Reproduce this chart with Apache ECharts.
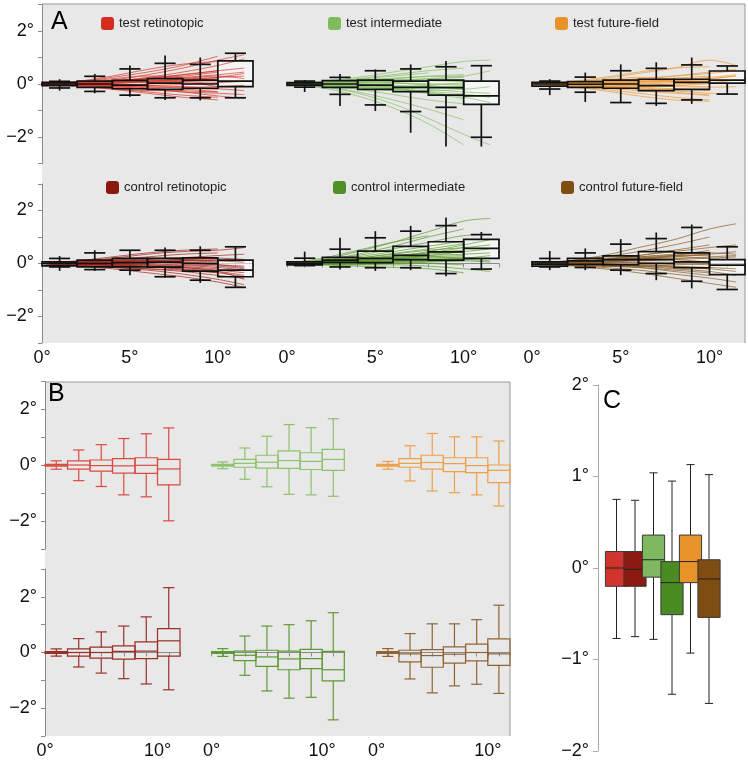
<!DOCTYPE html>
<html><head><meta charset="utf-8">
<script src="https://cdn.jsdelivr.net/npm/echarts@6/dist/echarts.min.js"></script>
<style>html,body{margin:0;padding:0;background:#fff}#c{width:748px;height:765px}</style>
</head><body><div id="c"></div><script>
// ---------------- DATA ----------------
const panelNames = ['test retinotopic','test intermediate','test future-field','control retinotopic','control intermediate','control future-field'];
const binCenters = [1,3,5,7,9,11];
const trajX = [0,2,4,6,8,10,11.5];
const xLabelValuesA = [0,5,10];
const xLabelValuesB = [0,10];
const yLabelValuesAB = [-2,0,2];
const yLabelValuesC = [-2,-1,0,1,2];

// trajectories (y at trajX)
const trajTestRetino = [
 [0,0.05,0.15,0.35,0.6,0.9,1.1],[0,0.08,0.25,0.45,0.7,1.05],[0,0.02,0.1,0.25,0.45,0.7,0.95],
 [0,0.04,0.12,0.2,0.3,0.45],[0,0,0.05,0.1,0.18,0.25,0.3],[0,-0.03,0.02,0.08,0.12,0.2],
 [0,0.02,0,-0.05,-0.02,0.05,0.1],[0,-0.05,-0.1,-0.12,-0.15,-0.2],[0,-0.04,-0.12,-0.2,-0.3,-0.35,-0.4],
 [0,-0.06,-0.18,-0.3,-0.42,-0.5],[0,-0.08,-0.2,-0.35,-0.5,-0.6],[0,-0.03,-0.08,-0.2,-0.3,-0.45,-0.55],
 [0,0.03,0.08,0.15,0.1,0],[0,-0.02,0.05,0.2,0.35,0.5,0.6],[0,0.06,0.2,0.3,0.25,0.15],
 [0,-0.05,-0.05,0,0.05,-0.1],[0,0.1,0.3,0.55,0.75,0.85],[0,-0.02,-0.15,-0.25,-0.2,-0.3],
 [0,0.04,0.1,0.18,0.25,0.35,0.45],[0,-0.01,0.03,0.06,0.1,0.12],[0,0.03,0.06,0.1,0.15,0.25,0.4],
 [0,-0.03,-0.06,-0.1,-0.12,-0.1,-0.05],[0,-0.02,-0.06,-0.15,-0.25,-0.3],[0,0.05,0.12,0.22,0.35,0.5],
 [0,0.01,-0.02,-0.06,-0.1,-0.18,-0.25],[0,0.02,0.07,0.12,0.2,0.3,0.2]
];
const trajTestInter = [
 [0,0.1,0.25,0.45,0.65,0.85,0.9],[0,0.05,0.2,0.35,0.5,0.6],[0,0.08,0.15,0.2,0.3,0.35],
 [0,0.03,0.05,0.1,0.12,0.1],[0,0,0,-0.05,-0.1,-0.15],[0,-0.03,-0.08,-0.15,-0.2,-0.3,-0.35],
 [0,-0.05,-0.15,-0.25,-0.35,-0.45],[0,-0.08,-0.2,-0.4,-0.6,-0.75],[0,-0.1,-0.3,-0.6,-0.95,-1.35],
 [0,-0.15,-0.45,-0.9,-1.5,-2.3],[0,-0.1,-0.35,-0.75,-1.3,-1.9,-2.3],[0,0.05,0.1,0.05,0,-0.05],
 [0,0.02,-0.05,-0.1,-0.05,0.05],[0,0.06,0.12,0.22,0.28,0.3],[0,-0.02,-0.1,-0.2,-0.25,-0.2,-0.1],
 [0,0.04,0,-0.15,-0.35,-0.55],[0,0.07,0.18,0.3,0.42],[0,-0.04,-0.12,-0.18,-0.3,-0.5,-0.7],
 [0,0.03,0.08,0.15,0.2,0.25],[0,0.01,0.03,0.02,0,0],[0,-0.02,-0.05,-0.08,-0.12,-0.18],
 [0,-0.04,-0.1,-0.18,-0.28,-0.38,-0.5],[0,0.05,0.12,0.18,0.15,0.1],[0,0.02,0.06,0.1,0.2,0.3,0.5],
 [0,-0.01,-0.04,-0.1,-0.12,-0.08],[0,0.04,0.08,0.05,-0.05,-0.2]
];
const trajTestFF = [
 [0,0.05,0.2,0.4,0.6,0.9,0.7],[0,0.08,0.25,0.45,0.6,0.65],[0,0.05,0.12,0.2,0.3,0.4,0.5],
 [0,0.02,0.05,0.1,0.15,0.2,0.3],[0,0,0.02,0,0.05,0.1],[0,-0.02,-0.05,-0.05,0,0.05,0.15],
 [0,-0.04,-0.1,-0.15,-0.2,-0.2],[0,-0.06,-0.15,-0.25,-0.35,-0.4],[0,-0.08,-0.2,-0.35,-0.5,-0.6],
 [0,-0.1,-0.25,-0.45,-0.6,-0.65],[0,0.04,0.1,0.05,-0.05,-0.1],[0,-0.03,0,0.08,0.15,0.25,0.35],
 [0,0.06,0.15,0.25,0.2,0.15],[0,-0.05,-0.12,-0.1,-0.05,0],[0,0.03,0.1,0.18,0.3,0.45,0.55],
 [0,-0.02,-0.08,-0.2,-0.3,-0.45],
 [0,0.02,0.06,0.1,0.12,0.15],[0,-0.01,-0.03,-0.06,-0.1,-0.12,-0.1],[0,0.03,0.08,0.12,0.1,0.05],
 [0,-0.03,-0.08,-0.12,-0.18,-0.25],[0,0.01,0.04,0.08,0.12,0.2,0.3],[0,-0.02,-0.02,0.03,0.08,0.1],
 [0,0.04,0.1,0.15,0.22,0.3],[0,-0.04,-0.1,-0.18,-0.25,-0.35,-0.4]
];
const trajCtrlRetino = [
 [0,0.08,0.2,0.35,0.45,0.5,0.6],[0,0.05,0.15,0.25,0.35,0.4],[0,0.03,0.08,0.15,0.2,0.2,0.15],
 [0,0.02,0.05,0.05,0.05,0],[0,0,0,-0.02,-0.05,-0.1,-0.2],[0,-0.02,-0.05,-0.1,-0.15,-0.25,-0.35],
 [0,-0.05,-0.1,-0.2,-0.3,-0.45,-0.55],[0,-0.06,-0.15,-0.25,-0.4,-0.6,-0.8],[0,-0.08,-0.2,-0.35,-0.5,-0.7,-0.9],
 [0,0.05,0.1,0.1,0.05,-0.05,-0.15],[0,-0.03,-0.05,0,0.1,0.15],[0,0.06,0.12,0.2,0.15,0.1],
 [0,-0.04,-0.08,-0.12,-0.2,-0.3,-0.45],[0,0.1,0.25,0.4,0.5,0.55],[0,-0.06,-0.15,-0.2,-0.25,-0.35],
 [0,0.02,0,-0.05,-0.15,-0.3,-0.6],
 [0,0.02,0.06,0.1,0.15,0.2],[0,-0.01,-0.03,-0.06,-0.08,-0.15,-0.25],[0,0.03,0.08,0.12,0.12,0.1,0.05],
 [0,-0.03,-0.06,-0.1,-0.12,-0.2],[0,0.04,0.1,0.18,0.22,0.3,0.35],[0,0,0.02,0.04,0,-0.05,-0.1],
 [0,-0.02,-0.06,-0.12,-0.22,-0.35,-0.5],[0,0.01,0.04,0.08,0.1,0.05]
];
const trajCtrlInter = [
 [0,0.15,0.45,0.8,1.2,1.6,1.7],[0,0.12,0.35,0.65,1.0,1.3],[0,0.1,0.3,0.55,0.8,1.05,1.1],
 [0,0.08,0.25,0.45,0.65,0.85],[0,0.06,0.2,0.35,0.5,0.6,0.7],[0,0.05,0.15,0.3,0.4,0.5],
 [0,0.03,0.1,0.2,0.3,0.35,0.4],[0,0.02,0.08,0.15,0.2,0.25],[0,0,0.05,0.08,0.1,0.1,0.05],
 [0,-0.02,0,0.02,0,-0.05],[0,-0.04,-0.05,-0.05,-0.1,-0.2,-0.3],[0,-0.05,-0.1,-0.15,-0.2,-0.35],
 [0,0.1,0.15,0.2,0.3,0.45],[0,0.05,0.12,0.25,0.45,0.7,0.9],[0,0.2,0.5,0.8,1.05],
 [0,0.04,0.1,0.12,0.15,0.2,0.3],[0,-0.02,0.05,0.15,0.25,0.2],
 [0,0.04,0.12,0.22,0.35,0.45,0.55],[0,0.02,0.05,0.1,0.15,0.2],[0,0.06,0.15,0.28,0.4,0.6],
 [0,0.01,0.02,0.05,0.08,0.15,0.2],[0,0.03,0.1,0.18,0.25,0.3],[0,-0.01,0.02,0.06,0.12,0.15,0.1],
 [0,0.08,0.2,0.38,0.55,0.75],[0,-0.03,-0.04,0,0.05,0.1]
];
const trajCtrlFF = [
 [0,0.1,0.3,0.6,0.9,1.3,1.5],[0,0.08,0.25,0.45,0.7,1.0],[0,0.05,0.15,0.3,0.45,0.6,0.7],
 [0,0.04,0.1,0.2,0.3,0.35],[0,0.02,0.05,0.1,0.15,0.2,0.25],[0,0,0.02,0.05,0.05,0],
 [0,-0.02,-0.05,-0.05,-0.1,-0.15,-0.2],[0,-0.04,-0.1,-0.15,-0.25,-0.35],[0,-0.06,-0.15,-0.25,-0.4,-0.55,-0.7],
 [0,-0.08,-0.2,-0.35,-0.55,-0.75,-0.9],[0,0.06,0.12,0.2,0.15,0.05],[0,-0.02,0.05,0.15,0.3,0.5],
 [0,0.03,0,-0.1,-0.2,-0.3,-0.45],[0,0.05,0.15,0.25,0.35,0.4,0.35],[0,-0.05,-0.1,-0.1,-0.05,0],
 [0,0.1,0.2,0.25,0.3,0.3],
 [0,0.03,0.08,0.12,0.18,0.25,0.3],[0,0.01,0.02,0.03,0,-0.05],[0,-0.01,-0.03,-0.08,-0.12,-0.2,-0.3],
 [0,0.05,0.12,0.2,0.25,0.2],[0,-0.03,-0.06,-0.1,-0.15,-0.2],[0,0.02,0.08,0.15,0.25,0.35,0.45],
 [0,-0.04,-0.08,-0.15,-0.3,-0.45],[0,0.06,0.15,0.3,0.5,0.7]
];

// panel A boxes: [lineLo, capLo, q1, median, q3, capHi, lineHi]
const boxATestRetino = [
 [-0.25,-0.15,-0.06,0,0.06,0.1,0.18],[-0.35,-0.28,-0.13,0,0.11,0.29,0.38],
 [-0.48,-0.42,-0.18,-0.04,0.14,0.57,0.7],[-0.6,-0.52,-0.2,0.03,0.2,0.78,1.08],
 [-0.62,-0.52,-0.16,0,0.15,0.74,1.0],[-0.52,-0.52,-0.1,0.11,0.87,1.16,1.16]
];
const boxATestInter = [
 [-0.3,-0.12,-0.05,0,0.05,0.11,0.15],[-0.83,-0.39,-0.13,0,0.13,0.25,0.38],
 [-1.02,-0.79,-0.2,-0.04,0.15,0.5,0.55],[-1.84,-1.04,-0.29,-0.13,0.11,0.57,0.74],
 [-2.36,-0.88,-0.42,-0.14,0.15,0.65,0.87],[-2.36,-2.01,-0.77,-0.45,0.11,0.69,0.69]
];
const boxATestFF = [
 [-0.42,-0.19,-0.08,0,0.06,0.11,0.18],[-0.68,-0.31,-0.13,-0.01,0.09,0.26,0.43],
 [-0.7,-0.7,-0.16,0,0.15,0.5,0.74],[-0.83,-0.73,-0.25,-0.06,0.18,0.59,0.82],
 [-0.75,-0.6,-0.2,0.06,0.18,0.72,1.0],[-0.38,-0.38,0.03,0.15,0.49,0.68,0.68]
];
const boxACtrlRetino = [
 [-0.28,-0.13,-0.09,0,0.06,0.19,0.28],[-0.28,-0.23,-0.13,0,0.13,0.4,0.5],
 [-0.44,-0.25,-0.13,0.03,0.19,0.5,0.5],[-0.54,-0.5,-0.14,0.05,0.19,0.5,0.6],
 [-0.73,-0.63,-0.29,0,0.21,0.5,0.65],[-0.9,-0.9,-0.5,-0.25,0.13,0.63,0.63]
];
const boxACtrlInter = [
 [-0.1,-0.08,-0.05,0,0.06,0.2,0.45],[-0.23,-0.13,0.04,0.13,0.23,0.54,0.97],
 [-0.28,-0.16,0.03,0.19,0.47,0.97,1.22],[-0.25,-0.16,0.15,0.31,0.65,1.22,1.42],
 [-0.48,-0.38,0.13,0.44,0.82,1.43,1.74],[-0.21,-0.21,0.19,0.57,0.91,1.09,1.19]
];
const boxACtrlFF = [
 [-0.25,-0.13,-0.1,-0.02,0.06,0.19,0.47],[-0.25,-0.15,-0.03,0.1,0.19,0.4,0.57],
 [-0.44,-0.25,-0.04,0.15,0.29,0.73,0.92],[-0.63,-0.38,0,0.15,0.45,0.94,1.17],
 [-0.94,-0.67,-0.16,0.06,0.4,1.36,1.47],[-0.98,-0.98,-0.42,-0.06,0.15,0.63,0.63]
];

// panel B boxes: [min, q1, median, q3, max]
const boxBTestRetino = [
 [-0.14,-0.03,0,0.03,0.16],[-0.55,-0.14,0.01,0.16,0.55],[-0.76,-0.21,-0.01,0.19,0.74],
 [-1.06,-0.28,-0.02,0.24,0.96],[-1.13,-0.29,0,0.27,1.13],[-1.99,-0.7,-0.13,0.21,1.34]
];
const boxBTestInter = [
 [-0.12,-0.03,0,0.03,0.12],[-0.5,-0.07,0.07,0.21,0.62],[-0.77,-0.1,0.11,0.36,1.04],
 [-1.04,-0.11,0.17,0.52,1.46],[-1.06,-0.15,0.14,0.45,1.35],[-1.11,-0.18,0.21,0.57,1.67]
];
const boxBTestFF = [
 [-0.14,-0.03,0,0.03,0.14],[-0.56,-0.07,0.07,0.24,0.7],[-0.92,-0.14,0.1,0.36,1.14],
 [-0.98,-0.23,0.06,0.27,1.02],[-1.06,-0.26,-0.01,0.27,1.02],[-1.46,-0.62,-0.18,0.01,0.87]
];
const boxBCtrlRetino = [
 [-0.13,-0.03,0,0.03,0.13],[-0.52,-0.13,0,0.13,0.5],[-0.74,-0.2,0,0.19,0.74],
 [-0.94,-0.24,0.04,0.24,0.95],[-1.13,-0.22,0.05,0.38,1.28],[-1.34,-0.13,0.42,0.86,2.33]
];
const boxBCtrlInter = [
 [-0.14,-0.03,0,0.03,0.14],[-0.82,-0.29,-0.1,0.05,0.59],[-1.38,-0.5,-0.16,0.08,0.95],
 [-1.64,-0.62,-0.23,0.05,1.0],[-1.61,-0.58,-0.22,0.11,1.14],[-2.42,-1.02,-0.62,0.04,1.43]
];
const boxBCtrlFF = [
 [-0.14,-0.03,0,0.03,0.14],[-0.95,-0.34,-0.05,0.08,0.68],[-1.45,-0.53,-0.11,0.1,1.03],
 [-1.2,-0.38,-0.06,0.2,1.03],[-1.14,-0.3,0,0.3,1.18],[-1.47,-0.46,-0.05,0.49,1.7]
];

// panel C
const cPositions = [1,2,3,4,5,6];
const cMin = [-0.77,-0.75,-0.78,-1.38,-0.93,-1.48];
const cQ1  = [-0.2,-0.2,-0.1,-0.51,-0.16,-0.54];
const cMed = [0,-0.015,0.09,-0.16,0.07,-0.12];
const cQ3  = [0.18,0.18,0.36,0.07,0.36,0.09];
const cMax = [0.75,0.74,1.04,0.95,1.13,1.02];

// ---------------- STYLE ----------------
const legendColors = ['#d62b1f','#7dbb5c','#e8922c','#8a180e','#4f9126','#7f4e14'];
const trajColors   = ['#d8382a','#86c064','#eb9a3a','#a3261a','#5c9a2c','#8a5a24'];
const boxBColors   = ['#d94a42','#8cc26c','#eda048','#983026','#5e9a34','#906432'];
const cColors      = ['#d0342c','#8b1a10','#80b860','#4a8c22','#e8922a','#7f4c12'];
const FONT = 'Liberation Sans, Arial, Helvetica, sans-serif';

const trajSets = [trajTestRetino,trajTestInter,trajTestFF,trajCtrlRetino,trajCtrlInter,trajCtrlFF];
const boxASets = [boxATestRetino,boxATestInter,boxATestFF,boxACtrlRetino,boxACtrlInter,boxACtrlFF];
const boxBSets = [boxBTestRetino,boxBTestInter,boxBTestFF,boxBCtrlRetino,boxBCtrlInter,boxBCtrlFF];

const gridsA = [
 {left:42, top:4.5, width:211, height:159},{left:287, top:4.5, width:212, height:159},{left:532, top:4.5, width:213, height:159},
 {left:42, top:184, width:211, height:159},{left:287, top:184, width:212, height:159},{left:532, top:184, width:213, height:159}
];
const gridsB = [
 {left:45, top:381.6, width:135, height:167.4},{left:211.7, top:381.6, width:132.6, height:167.4},{left:376.7, top:381.6, width:133.3, height:167.4},
 {left:45, top:569, width:135, height:167},{left:211.7, top:569, width:132.6, height:167},{left:376.7, top:569, width:133.3, height:167}
];
const gridC = {left:598, top:385, width:129.5, height:366};
const legendPos = [[101,17],[328,17],[555,17],[106,181],[333,181],[561,181]];

function fmtDeg(v){ return (v < 0 ? '\u2212' + Math.abs(v) : String(v)) + '\u00b0'; }

function trajData(list){
  const out = [];
  list.forEach(t => { t.forEach((y,i) => out.push([trajX[i], y])); out.push([trajX[t.length-1], null]); });
  return out;
}

function boxRenderer(cfg){
  return function(params, api){
    const c = api.value(0), lo = api.value(1), cl = api.value(2), q1 = api.value(3),
          md = api.value(4), q3 = api.value(5), ch = api.value(6), hi = api.value(7);
    const P = (x,y) => api.coord([x,y]);
    const a = P(c - cfg.half, q3), b = P(c + cfg.half, q1);
    const kids = [];
    const ln = (p1,p2,col,w) => ({type:'line', shape:{x1:p1[0],y1:p1[1],x2:p2[0],y2:p2[1]}, style:{stroke:col, lineWidth:w}});
    if (cfg.mode === 'fill') {
      kids.push({type:'rect', shape:{x:a[0],y:a[1],width:b[0]-a[0],height:b[1]-a[1]}, style:{fill:cfg.fill}});
    } else {
      const col = cfg.colors ? cfg.colors[params.dataIndex] : cfg.stroke;
      const wcol = cfg.whisker || col;
      kids.push(ln(P(c, q3), P(c, hi), wcol, cfg.wlw || cfg.lw));
      kids.push(ln(P(c, q1), P(c, lo), wcol, cfg.wlw || cfg.lw));
      kids.push(ln(P(c - cfg.cap, ch), P(c + cfg.cap, ch), wcol, cfg.wlw || cfg.lw));
      kids.push(ln(P(c - cfg.cap, cl), P(c + cfg.cap, cl), wcol, cfg.wlw || cfg.lw));
      kids.push({type:'rect', shape:{x:a[0],y:a[1],width:b[0]-a[0],height:b[1]-a[1]},
                 style:{fill: cfg.boxFill ? col : 'none', stroke: cfg.boxStroke || col, lineWidth: cfg.lw}});
      kids.push(ln(P(c - cfg.half, md), P(c + cfg.half, md), cfg.medStroke || col, cfg.lw));
    }
    return {type:'group', children:kids};
  };
}

// ---------------- OPTION ----------------
const grid = [], xAxis = [], yAxis = [], series = [], legend = [];
const axisGray = '#8a8a8a';

function addXAxis(gi, show, labels){
  xAxis.push({type:'value', gridIndex:gi, min:0, max:12, interval:1, show:show,
    axisLine:{show:true, lineStyle:{color:axisGray, width:1}},
    axisTick:{show:true, length:4, lineStyle:{color:axisGray}},
    axisLabel:{show:true, fontSize:18, color:'#111', margin:6, fontFamily:FONT,
      formatter: v => labels.includes(v) ? fmtDeg(v) : ''},
    splitLine:{show:false}});
}
function addYAxis(gi, show, min, max, labels, offset){
  yAxis.push({type:'value', gridIndex:gi, min:min, max:max, interval:1, show:show, offset: offset||0,
    axisLine:{show:true, lineStyle:{color:axisGray, width:1}},
    axisTick:{show:true, length:4, lineStyle:{color:axisGray}},
    axisLabel:{show:true, fontSize:18, color:'#111', margin:8, fontFamily:FONT,
      formatter: v => labels.includes(v) ? fmtDeg(v) : ''},
    splitLine:{show:false}});
}

// Panel A
gridsA.forEach((g,i) => {
  grid.push(Object.assign({containLabel:false}, g));
  addXAxis(i, i >= 3, xLabelValuesA);
  addYAxis(i, i % 3 === 0, -3, 3, yLabelValuesAB);
  const boxData = boxASets[i].map((b,k) => [binCenters[k]].concat(b));
  series.push({type:'custom', xAxisIndex:i, yAxisIndex:i, z:1, silent:true,
    renderItem: boxRenderer({mode:'fill', half:1, fill:'rgba(255,255,255,0.55)'}), data: boxData});
  series.push({type:'line', name:panelNames[i], xAxisIndex:i, yAxisIndex:i, z:2, silent:true,
    showSymbol:false, symbol:'none', smooth:0.35, connectNulls:false,
    itemStyle:{color:legendColors[i]},
    lineStyle:{color:trajColors[i], width:0.8, opacity:0.9},
    data: trajData(trajSets[i])});
  series.push({type:'custom', xAxisIndex:i, yAxisIndex:i, z:3, silent:true,
    renderItem: boxRenderer({mode:'stroke', half:1, cap:0.6, stroke:'#111', lw:1.7}), data: boxData});
  legend.push({data:[panelNames[i]], left:legendPos[i][0], top:legendPos[i][1], padding:0,
    icon:'roundRect', itemWidth:13, itemHeight:13, selectedMode:false,
    textStyle:{fontSize:13, color:'#222', fontFamily:FONT}});
});

// Panel B
gridsB.forEach((g,i) => {
  const gi = 6 + i;
  grid.push(Object.assign({containLabel:false}, g));
  addXAxis(gi, i >= 3, xLabelValuesB);
  addYAxis(gi, i % 3 === 0, -3, 3, yLabelValuesAB);
  const data = boxBSets[i].map((b,k) => [binCenters[k], b[0], b[0], b[1], b[2], b[3], b[4], b[4]]);
  series.push({type:'custom', xAxisIndex:gi, yAxisIndex:gi, z:3, silent:true,
    renderItem: boxRenderer({mode:'stroke', half:1, cap:0.5, stroke:boxBColors[i], lw:1.2}), data: data});
});

// Panel C
grid.push(Object.assign({containLabel:false}, gridC));
xAxis.push({type:'value', gridIndex:12, min:0, max:7, show:false});
yAxis.push({type:'value', gridIndex:12, min:-2, max:2, interval:1, offset:3,
  axisLine:{show:true, lineStyle:{color:'#aaa', width:1}},
  axisTick:{show:true, length:5, lineStyle:{color:'#aaa'}},
  axisLabel:{fontSize:18, color:'#111', margin:6, fontFamily:FONT, formatter: v => yLabelValuesC.includes(v) ? fmtDeg(v) : ''},
  splitLine:{show:false}});
series.push({type:'custom', xAxisIndex:12, yAxisIndex:12, z:3, silent:true,
  renderItem: boxRenderer({mode:'stroke', half:0.6, cap:0.22, colors:cColors, boxFill:true,
    boxStroke:'#3a3a3a', medStroke:'#222', whisker:'#222', lw:1, wlw:1}),
  data: cPositions.map((p,i) => [p, cMin[i], cMin[i], cQ1[i], cMed[i], cQ3[i], cMax[i], cMax[i]])});

const graphic = [
  {type:'rect', z:-10, shape:{x:42, y:4, width:703, height:339}, style:{fill:'#e8e8e8'}},
  {type:'line', z:-9, shape:{x1:42, y1:4, x2:745, y2:4}, style:{stroke:'#999', lineWidth:1}},
  {type:'line', z:-9, shape:{x1:745, y1:4, x2:745, y2:343}, style:{stroke:'#999', lineWidth:1}},
  {type:'rect', z:-10, shape:{x:45, y:382, width:465, height:354}, style:{fill:'#e8e8e8'}},
  {type:'line', z:-9, shape:{x1:45, y1:382, x2:510, y2:382}, style:{stroke:'#999', lineWidth:1}},
  {type:'line', z:-9, shape:{x1:510, y1:382, x2:510, y2:736}, style:{stroke:'#999', lineWidth:1}},
  {type:'text', z:10, style:{x:51, y:10, text:'A', font:'25px ' + FONT, fill:'#000', verticalAlign:'top'}},
  {type:'text', z:10, style:{x:48, y:382, text:'B', font:'25px ' + FONT, fill:'#000', verticalAlign:'top'}},
  {type:'text', z:10, style:{x:603, y:389, text:'C', font:'25px ' + FONT, fill:'#000', verticalAlign:'top'}}
];

const chart = echarts.init(document.getElementById('c'), null, {renderer:'canvas'});
chart.setOption({animation:false, textStyle:{fontFamily:FONT}, grid, xAxis, yAxis, series, legend, graphic});
</script></body></html>
